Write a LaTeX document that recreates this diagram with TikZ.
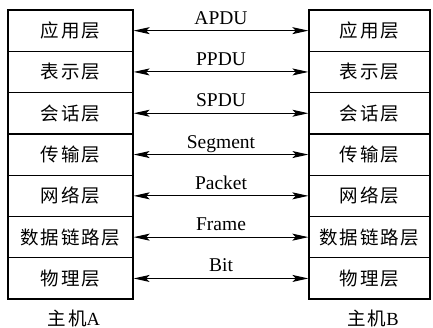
\documentclass[tikz,border=0pt]{standalone}
\usepackage{fontspec}
\setmainfont{Liberation Serif}
\newfontfamily\cjk[LetterSpace=10]{Noto Sans CJK SC}
\usetikzlibrary{arrows.meta}

\tikzset{
  layer/.style={draw, line width=1.3pt, minimum height=41.3pt, inner sep=0pt,
    font=\cjk\fontsize{18.5}{21}\selectfont},
  layerA/.style={layer, minimum width=125pt},
  layerB/.style={layer, minimum width=121pt},
  pdu/.style={line width=1pt,
    {Stealth[length=16pt,width=7pt,inset=3.5pt]}-{Stealth[length=16pt,width=7pt,inset=3.5pt]}},
  pdulabel/.style={anchor=base, yshift=6.5pt, inner sep=0pt,
    font=\fontsize{19.5}{22}\selectfont},
  hostlabel/.style={inner sep=0pt, font=\fontsize{18.5}{21}\selectfont}
}

\begin{document}
\begin{tikzpicture}[x=1pt, y=-1pt]
\useasboundingbox (0,0) rectangle (433,328);

% protocol stacks of both hosts
\foreach \i/\name in {1/应用层, 2/表示层, 3/会话层, 4/传输层, 5/网络层, 6/数据链路层, 7/物理层} {
  \node[layerA] (a\i) at (70.5, {10 + 41.3*(\i-0.5)}) {\name};
  \node[layerB] (b\i) at (369.5, {10 + 41.3*(\i-0.5)}) {\name};
}

% peer-to-peer data units
\foreach \i/\unit in {1/APDU, 2/PPDU, 3/SPDU, 4/Segment, 5/Packet, 6/Frame, 7/Bit} {
  \draw[pdu] (a\i.east) -- (b\i.west) node[pdulabel, midway] {\unit};
}

% host captions
\node[hostlabel] (hA) at (74, 318) {{\cjk 主机}A};
\node[hostlabel] (hB) at (373, 318) {{\cjk 主机}B};
\end{tikzpicture}
\end{document}
